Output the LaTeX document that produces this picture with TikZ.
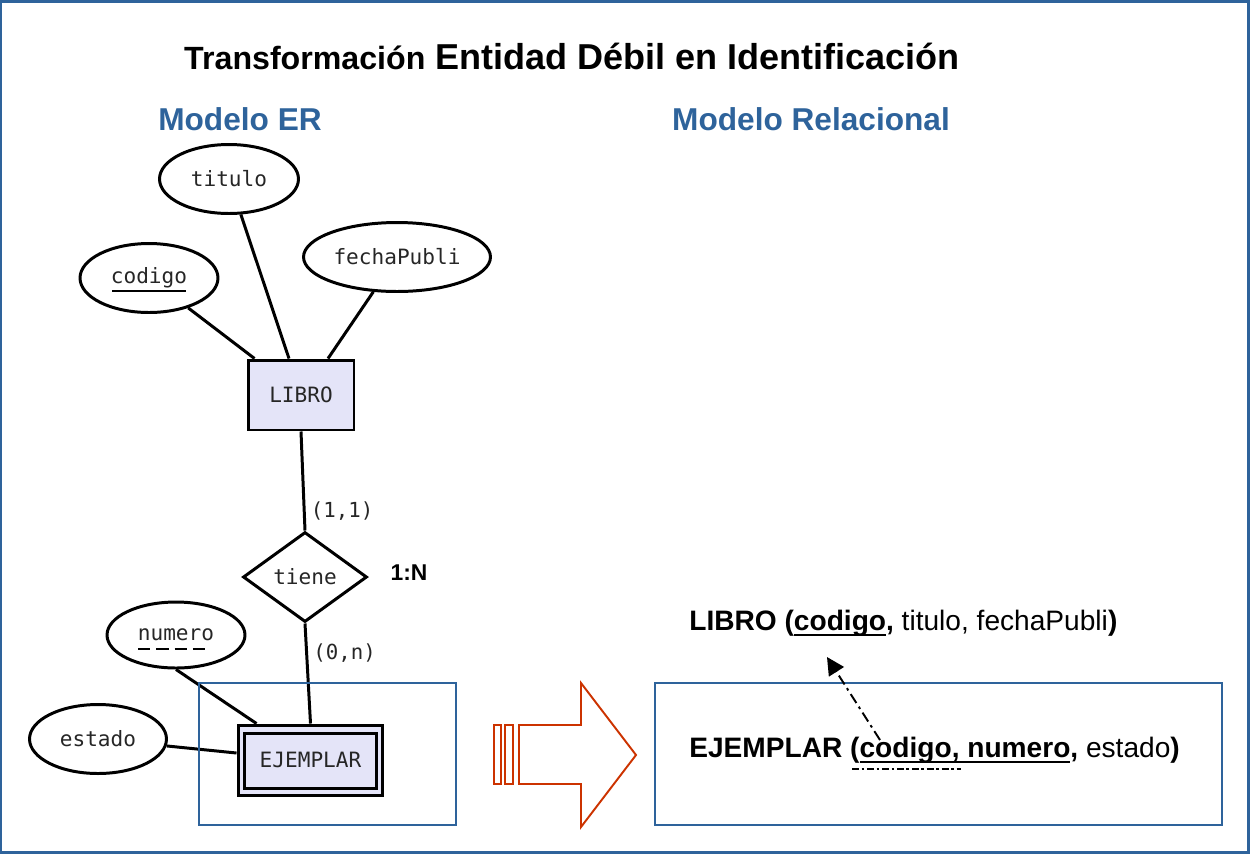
\documentclass[tikz,border=0pt]{standalone}
\usepackage{fontspec}
\setmainfont{Liberation Sans}
\newfontfamily\ermono{DejaVu Sans Mono}
\usetikzlibrary{shapes.geometric,arrows.meta,calc,positioning}
\definecolor{slideblue}{RGB}{46,99,155}
\definecolor{arrowred}{RGB}{204,51,0}
\definecolor{entfill}{RGB}{228,228,248}
\newcommand{\erfont}{\ermono\fontsize{12}{14}\selectfont}
% thick underline for key attributes
\newsavebox{\keybox}
\newcommand{\keyul}[1]{\sbox{\keybox}{#1}\rlap{\usebox{\keybox}}\rule[-3.3pt]{\wd\keybox}{1.1pt}}

\tikzset{
  attr/.style={ellipse,draw,line width=1.7pt,inner sep=0pt,minimum height=1.38cm,text=black!85,font=\erfont},
  entity/.style={rectangle,draw,line width=1.7pt,fill=entfill,inner sep=0pt,minimum height=1.4cm,text=black!85,font=\erfont},
  relation/.style={diamond,draw,line width=1.7pt,aspect=1.38,inner sep=0pt,minimum width=2.48cm,minimum height=1.8cm,text=black!85,font=\erfont},
  erline/.style={line width=1.7pt},
  keyline/.style={line width=1.5pt},
  card/.style={inner sep=3pt,text=black!85,font=\ermono\fontsize{11.8}{13}\selectfont},
  heading/.style={text=slideblue,font=\bfseries\fontsize{18}{21}\selectfont},
  frame/.style={draw=slideblue,line width=1.6pt},
  schema/.style={anchor=base west,inner sep=0pt,font=\fontsize{16}{19}\selectfont},
  bigarrow/.style={draw=arrowred,line width=1.1pt},
  fkarrow/.style={line width=1.1pt,dash pattern=on 6pt off 2.5pt on 1.5pt off 2.5pt,-{Triangle[length=10pt,width=10pt]}}
}

\begin{document}
\begin{tikzpicture}[x=0.02cm,y=-0.02cm]
    \useasboundingbox (0,0) rectangle (1250,853);
    % slide frame
    \draw[frame,line width=1.7pt] (1,1.5) rectangle (1248,852);

    % Headings
    \node[anchor=base,font=\bfseries\fontsize{20.5}{24}\selectfont] (title) at (572,69)
        {{\fontsize{18.3}{21}\selectfont Transformación} Entidad Débil en Identificación};
    \node[heading,anchor=base] (erhead) at (240,130) {Modelo ER};
    \node[heading,anchor=base] (relhead) at (811,130) {Modelo Relacional};

    % ER model
    \node[attr,minimum width=2.78cm] (titulo) at (229,179) {titulo};
    \node[attr,minimum width=2.76cm] (codigo) at (149,278) {codigo};
    \node[attr,minimum width=3.74cm] (fecha) at (397,257) {fechaPubli};
    \node[entity,minimum width=2.12cm] (libro) at (301,395) {LIBRO};
    \node[relation] (tiene) at (305,577) {tiene};
    \node[font=\bfseries\fontsize{13}{15}\selectfont] (ratio) at (409,573) {1:N};
    \node[attr,minimum width=2.76cm,minimum height=1.32cm] (numero) at (176,635) {numero};
    \node[attr,minimum width=2.74cm] (estado) at (98,739) {estado};
    \node[entity,minimum width=2.9cm] (ejemplar) at (310.5,760) {EJEMPLAR};
    \draw[erline] ([shift={(8,10)}]ejemplar.north west) rectangle ([shift={(-8,-8)}]ejemplar.south east);

    % key underlines
    \draw[keyline] ([shift={(-37,13)}]codigo.center) -- ([shift={(37,13)}]codigo.center);
    \draw[keyline,dash pattern=on 7pt off 3.4pt] ([shift={(-38,14)}]numero.center) -- ([shift={(31,14)}]numero.center);

    % Connectors
    \draw[erline] (codigo) -- ([shift={(8,0)}]libro.north west);
    \draw[erline] (titulo) -- ([shift={(-12,0)}]libro.north);
    \draw[erline] (fecha) -- ([shift={(27,0)}]libro.north);
    \draw[erline] (libro.south) -- (tiene.north) node[card,pos=0.8,right] (cardlibro) {(1,1)};
    \draw[erline] (tiene.south) -- (ejemplar.north) node[card,pos=0.3,right] (cardejemplar) {(0,n)};
    \draw[erline] (numero.south) -- ([shift={(20,0)}]ejemplar.north west);
    \draw[erline] (estado) -- ([shift={(0,-7)}]ejemplar.west);

    % Boxes
    \draw[frame] (199,683) rectangle (456,825);
    \draw[frame] (655,683) rectangle (1222,825);

    % Transformation arrow
    \draw[bigarrow] (494,725) rectangle (501,784);
    \draw[bigarrow] (505,725) rectangle (513,784);
    \draw[bigarrow] (519,725) -- (581,725) -- (581,683) -- (636,755) -- (581,827) -- (581,784) -- (519,784) -- cycle;

    % Relational model
    \node[schema] (librorel) at (689,630) {\textbf{LIBRO (\keyul{codigo},} titulo, fechaPubli\textbf{)}};
    \node[schema] (ejemplarrel) at (689,757) {\textbf{EJEMPLAR (\keyul{codigo, numero},} estado\textbf{)}};
    \draw[line width=1.4pt,dash pattern=on 4pt off 1.5pt on 1.5pt off 1.5pt] (852,769) -- (961,769);
    \coordinate (libcod) at (827,657);
    \coordinate (ejcod) at (880,740);
    \draw[fkarrow] (ejcod) -- (libcod);
\end{tikzpicture}
\end{document}
